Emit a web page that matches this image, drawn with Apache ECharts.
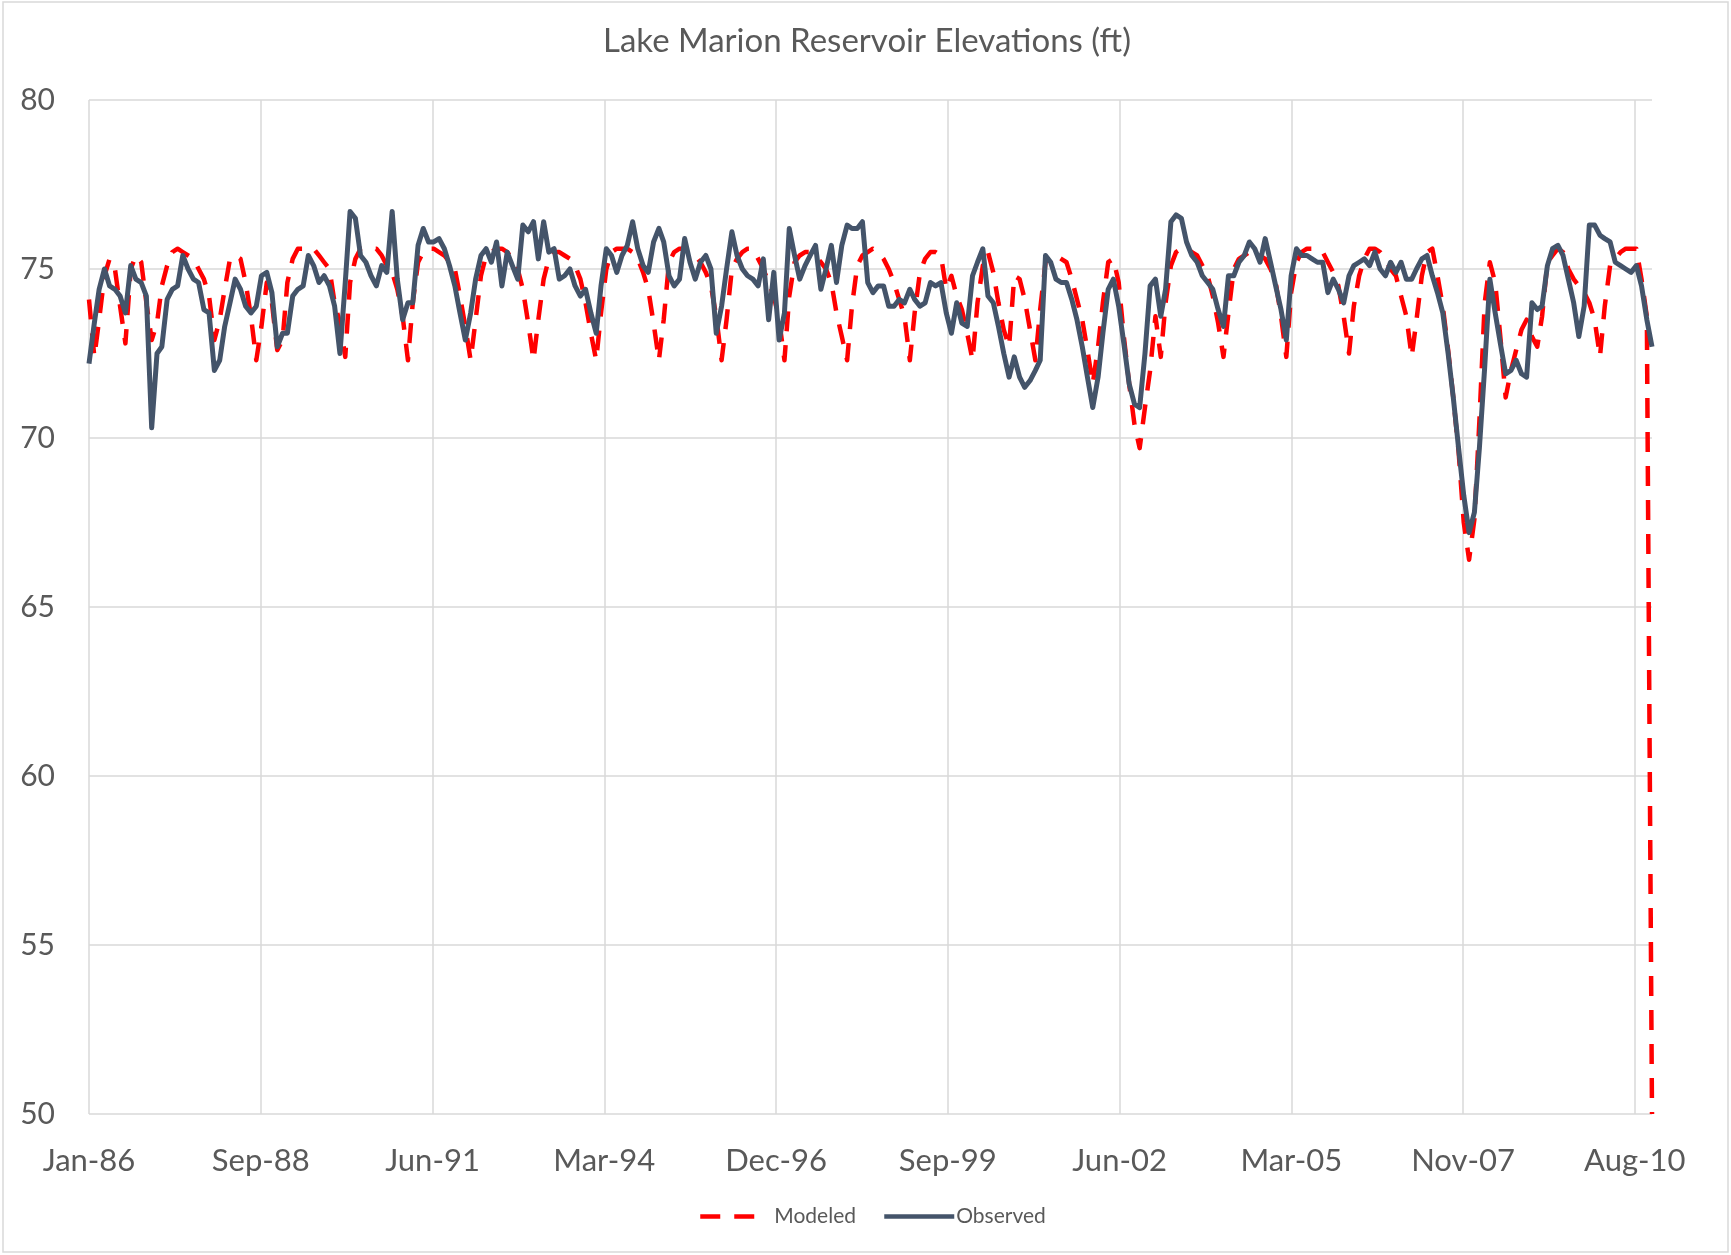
<!DOCTYPE html>
<html><head><meta charset="utf-8">
<script src="https://cdn.jsdelivr.net/npm/echarts@6/dist/echarts.min.js"></script>
<style>html,body{margin:0;padding:0;background:#fff}#c{width:1731px;height:1255px}</style>
</head><body><div id="c"></div><script>
// Monthly series, Jan 1986 .. Dec 2010 (300 months)
const startYear = 1986;
const monthCount = 300;
const xTickLabels = ['Jan-86','Sep-88','Jun-91','Mar-94','Dec-96','Sep-99','Jun-02','Mar-05','Nov-07','Aug-10'];
const yMin = 50, yMax = 80, yStep = 5;

const modeled = [
74.1,72.4,73.5,74.8,75.3,75.0,73.9,72.8,75.0,75.4,75.2,74.0,
72.9,73.4,74.5,75.1,75.5,75.6,75.5,75.4,75.3,75.0,74.7,74.2,
72.9,73.5,74.4,75.3,75.4,75.3,74.6,73.6,72.3,73.3,74.6,74.0,
72.6,72.9,74.6,75.3,75.6,75.6,75.6,75.6,75.4,75.2,75.0,74.0,
73.4,72.4,74.6,75.3,75.6,75.6,75.6,75.6,75.4,75.1,74.9,74.4,
73.6,72.3,74.0,75.2,75.5,75.6,75.6,75.5,75.4,75.2,75.0,74.2,
73.3,72.3,73.5,74.8,75.4,75.5,75.6,75.6,75.5,75.3,75.0,74.4,
73.4,72.3,73.5,74.7,75.3,75.5,75.5,75.4,75.3,75.1,74.7,74.0,
73.1,72.3,73.7,75.0,75.5,75.6,75.6,75.6,75.5,75.3,74.9,74.4,
73.4,72.3,73.5,75.2,75.5,75.6,75.6,75.5,75.4,75.2,74.9,74.5,
73.6,72.3,73.5,75.0,75.3,75.5,75.6,75.6,75.3,75.0,74.6,74.2,
73.5,72.3,74.2,75.2,75.4,75.5,75.5,75.4,75.2,75.0,74.6,73.7,
73.0,72.3,73.9,75.1,75.4,75.5,75.6,75.5,75.3,75.0,74.6,74.1,
73.6,72.3,73.7,74.9,75.3,75.5,75.5,75.4,74.4,74.8,74.2,73.8,
73.1,72.3,74.0,75.1,75.5,74.9,74.0,73.2,72.7,74.8,74.7,74.1,
73.2,72.3,73.8,75.2,75.4,75.4,75.3,75.2,74.7,74.1,73.5,72.6,
71.6,72.7,74.0,75.2,75.3,74.6,73.0,71.6,70.4,69.7,70.9,72.0,
73.6,72.4,74.0,75.1,75.5,75.6,75.6,75.5,75.4,75.1,74.8,74.2,
73.4,72.4,73.7,75.0,75.3,75.4,75.5,75.5,75.4,75.3,75.0,74.6,
73.6,72.4,74.3,75.2,75.5,75.6,75.6,75.6,75.5,75.2,74.9,74.5,
73.6,72.5,73.9,74.8,75.3,75.6,75.6,75.5,75.3,75.0,74.8,74.2,
73.6,72.4,73.5,74.8,75.5,75.6,74.8,73.9,72.6,71.2,69.6,67.5,
66.4,67.6,70.5,74.0,75.2,74.6,73.0,71.2,72.0,72.6,73.2,73.5,
73.0,72.7,73.6,75.2,75.4,75.6,75.5,75.0,74.7,74.5,74.3,74.0,
73.5,72.4,73.9,75.1,75.3,75.5,75.6,75.6,75.6,74.7,73.6,50.0
];

const observed = [
72.2,73.4,74.4,75.0,74.5,74.4,74.2,73.7,75.1,74.7,74.6,74.2,
70.3,72.5,72.7,74.1,74.4,74.5,75.4,75.0,74.7,74.6,73.8,73.7,
72.0,72.3,73.3,74.0,74.7,74.4,73.9,73.7,73.9,74.8,74.9,74.3,
72.7,73.1,73.1,74.2,74.4,74.5,75.4,75.1,74.6,74.8,74.5,73.9,
72.5,74.6,76.7,76.5,75.4,75.2,74.8,74.5,75.1,74.9,76.7,74.7,
73.5,74.0,74.0,75.7,76.2,75.8,75.8,75.9,75.6,75.1,74.5,73.7,
72.9,73.7,74.7,75.4,75.6,75.2,75.8,74.5,75.5,75.1,74.7,76.3,
76.1,76.4,75.3,76.4,75.5,75.6,74.7,74.8,75.0,74.5,74.2,74.4,
73.7,73.1,74.5,75.6,75.4,74.9,75.4,75.7,76.4,75.6,75.1,74.9,
75.8,76.2,75.8,74.8,74.5,74.7,75.9,75.2,74.7,75.2,75.4,75.0,
73.1,73.9,75.0,76.1,75.4,75.0,74.8,74.7,74.5,75.3,73.5,74.9,
72.9,73.7,76.2,75.4,74.7,75.1,75.4,75.7,74.4,75.0,75.7,74.6,
75.7,76.3,76.2,76.2,76.4,74.6,74.3,74.5,74.5,73.9,73.9,74.1,
74.0,74.4,74.1,73.9,74.0,74.6,74.5,74.6,73.7,73.1,74.0,73.4,
73.3,74.8,75.2,75.6,74.2,74.0,73.3,72.5,71.8,72.4,71.8,71.5,
71.7,72.0,72.3,75.4,75.2,74.7,74.6,74.6,74.1,73.5,72.7,71.8,
70.9,71.8,73.1,74.4,74.7,73.9,72.8,71.6,71.0,70.9,72.5,74.5,
74.7,73.6,74.4,76.4,76.6,76.5,75.8,75.4,75.2,74.8,74.6,74.4,
73.8,73.3,74.8,74.8,75.2,75.4,75.8,75.6,75.2,75.9,75.2,74.5,
73.8,72.9,74.8,75.6,75.4,75.4,75.3,75.2,75.2,74.3,74.7,74.4,
74.0,74.8,75.1,75.2,75.3,75.1,75.5,75.0,74.8,75.2,74.9,75.2,
74.7,74.7,75.0,75.3,75.4,74.8,74.3,73.7,72.5,71.2,69.7,68.3,
67.2,67.8,69.7,72.1,74.7,73.7,72.8,71.9,72.0,72.3,71.9,71.8,
74.0,73.8,73.9,75.1,75.6,75.7,75.4,74.7,74.0,73.0,73.9,76.3,
76.3,76.0,75.9,75.8,75.2,75.1,75.0,74.9,75.1,74.5,73.5,72.7
];

// x position of each month: days since 1 Jan 1986
const DAY = 86400000;
const t0 = Date.UTC(startYear, 0, 1);
const monthDay = [];
for (let i = 0; i < monthCount; i++) monthDay.push(Math.round((Date.UTC(startYear, i, 1) - t0) / DAY));
const xMax = monthDay[monthCount - 1];

const modeledData = modeled.map((v, i) => [monthDay[i], v]);
const observedData = observed.map((v, i) => [monthDay[i], v]);

const textColor = '#595959';
const gridColor = '#d9d9d9';
const font = 'Lato';

const splitColors = xTickLabels.map(() => gridColor).concat(['rgba(0,0,0,0)']);

const chart = echarts.init(document.getElementById('c'), null, {renderer: 'canvas'});
chart.setOption({
  animation: false,
  backgroundColor: '#ffffff',
  textStyle: {fontFamily: font},
  title: {
    text: 'Lake Marion Reservoir Elevations (ft)',
    left: 598, top: 20,
    textStyle: {fontFamily: font, fontSize: 33, fontWeight: 'normal', color: textColor}
  },
  graphic: [{
    type: 'rect', shape: {x: 3, y: 2, width: 1725, height: 1250},
    style: {fill: 'none', stroke: gridColor, lineWidth: 1.5}, silent: true
  }],
  legend: [{
    data: ['Modeled'], left: 693, top: 1201, itemWidth: 55, itemHeight: 22,
    itemStyle: {opacity: 0},
    lineStyle: {width: 4.5},
    textStyle: {fontFamily: font, fontSize: 21, color: textColor, padding: [0, 0, 0, 14]}
  }, {
    data: ['Observed'], left: 877, top: 1201, itemWidth: 70, itemHeight: 22,
    itemStyle: {opacity: 0},
    lineStyle: {width: 4.5},
    textStyle: {fontFamily: font, fontSize: 21, color: textColor, padding: [0, 0, 0, -3]}
  }],
  grid: {left: 89, top: 100, right: 79, bottom: 141, containLabel: false},
  xAxis: {
    type: 'value', min: 0, max: xMax, interval: 1000,
    axisLine: {show: false}, axisTick: {show: false},
    splitLine: {show: true, lineStyle: {color: splitColors, width: 1.5}},
    axisLabel: {
      margin: 31, fontFamily: font, fontSize: 31, color: textColor, showMaxLabel: false,
      formatter: v => (v % 1000 === 0 ? (xTickLabels[v / 1000] || '') : '')
    }
  },
  yAxis: {
    type: 'value', min: yMin, max: yMax, interval: yStep,
    axisLine: {show: false}, axisTick: {show: false},
    splitLine: {show: true, lineStyle: {color: gridColor, width: 1.5}},
    axisLabel: {margin: 34, fontFamily: font, fontSize: 30, color: textColor}
  },
  series: [{
    name: 'Modeled', type: 'line', data: modeledData, symbol: 'none', showSymbol: false,
    sampling: null, z: 2,
    itemStyle: {color: '#ff0000'},
    lineStyle: {color: '#ff0000', width: 4.5, type: [20, 14], cap: 'butt', join: 'round'}
  }, {
    name: 'Observed', type: 'line', data: observedData, symbol: 'none', showSymbol: false,
    sampling: null, z: 3,
    itemStyle: {color: '#44546a'},
    lineStyle: {color: '#44546a', width: 5, join: 'round'}
  }]
});
</script></body></html>
